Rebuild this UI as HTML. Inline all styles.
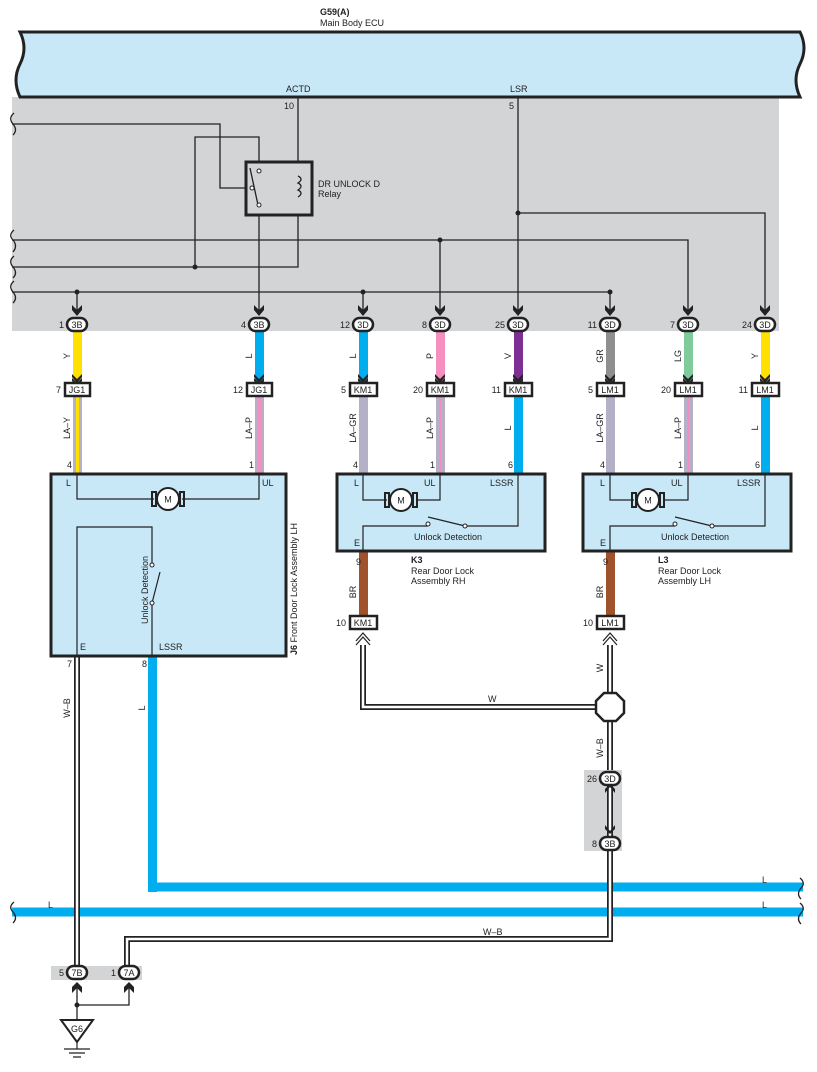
<!DOCTYPE html>
<html><head><meta charset="utf-8"><style>
html,body{margin:0;padding:0;background:#fff}
svg{display:block;font-family:"Liberation Sans",Arial,sans-serif}
text{font-size:9px;fill:#222}
</style></head><body>
<svg width="817" height="1072" viewBox="0 0 817 1072" xmlns="http://www.w3.org/2000/svg">
<rect x="12" y="97" width="767" height="234" fill="#d3d4d6"/>
<path d="M20 32 L800 32 Q808 48 800 64 Q792 80 800 97 L20 97 Q12 80 20 64 Q28 48 20 32 Z" fill="#c8e8f8" stroke="#222" stroke-width="3"/>
<text x="320" y="15" font-weight="bold">G59(A)</text>
<text x="320" y="26">Main Body ECU</text>
<text x="286" y="92">ACTD</text>
<text x="510" y="92">LSR</text>
<text x="284" y="109">10</text>
<text x="509" y="109">5</text>
<g fill="none" stroke="#222" stroke-width="1.3">
<path d="M12 124 H220 V188 H252"/>
<path d="M195 267 V137 H259 V170"/>
<path d="M298 97 V267 H12"/>
<path d="M12 240 H688 V312"/>
<path d="M12 292 H610 V312"/>
<path d="M77 292 V312"/><path d="M363 292 V312"/>
<path d="M440 240 V312"/>
<path d="M518 97 V312"/>
<path d="M518 213 H765 V312"/>
<path d="M259 205 V312"/>
</g>
<g fill="none" stroke="#222" stroke-width="1.3">
<path d="M14 113 Q8 118 13 124 Q18 130 13 135"/>
<path d="M14 230 Q8 235 13 240 Q18 246 13 252"/>
<path d="M14 256 Q8 261 13 267 Q18 273 13 278"/>
<path d="M14 281 Q8 286 13 292 Q18 298 13 303"/>
</g>
<g fill="#222">
<circle cx="195" cy="267" r="2.5"/><circle cx="77" cy="292" r="2.5"/><circle cx="363" cy="292" r="2.5"/>
<circle cx="440" cy="240" r="2.5"/><circle cx="518" cy="213" r="2.5"/><circle cx="610" cy="292" r="2.5"/>
</g>
<rect x="246" y="162" width="66" height="53" fill="#d3d4d6" stroke="#222" stroke-width="3"/>
<line x1="250" y1="168" x2="258" y2="205" stroke="#222" stroke-width="1.3"/>
<g fill="#fff" stroke="#222" stroke-width="1"><circle cx="259" cy="171" r="2"/><circle cx="252" cy="188" r="2"/><circle cx="259" cy="205" r="2"/></g>
<path d="M298 176 Q304 179 298 183 Q304 186 298 190 Q304 193 298 197" fill="none" stroke="#222" stroke-width="1.3"/>
<text x="318" y="187" font-size="9.5">DR UNLOCK D</text>
<text x="318" y="197" font-size="9.5">Relay</text>

<g fill="#222">
<path d="M72 305 l5 5 l5 -5 v5 l-5 6 l-5 -6z"/><path d="M254 305 l5 5 l5 -5 v5 l-5 6 l-5 -6z"/>
<path d="M358 305 l5 5 l5 -5 v5 l-5 6 l-5 -6z"/><path d="M435 305 l5 5 l5 -5 v5 l-5 6 l-5 -6z"/>
<path d="M513 305 l5 5 l5 -5 v5 l-5 6 l-5 -6z"/><path d="M605 305 l5 5 l5 -5 v5 l-5 6 l-5 -6z"/>
<path d="M683 305 l5 5 l5 -5 v5 l-5 6 l-5 -6z"/><path d="M760 305 l5 5 l5 -5 v5 l-5 6 l-5 -6z"/>
</g>
<rect x="73" y="332" width="9" height="52" fill="#ffe000"/>
<rect x="255" y="332" width="9" height="52" fill="#00aeef"/>
<rect x="359" y="332" width="9" height="52" fill="#00aeef"/>
<rect x="436" y="332" width="9" height="52" fill="#f48fc0"/>
<rect x="514" y="332" width="9" height="52" fill="#7d2f94"/>
<rect x="606" y="332" width="9" height="52" fill="#8f8f8f"/>
<rect x="684" y="332" width="9" height="52" fill="#7fcb9c"/>
<rect x="761" y="332" width="9" height="52" fill="#ffe000"/>
<g fill="#222">
<path d="M72 374 l5 5 l5 -5 v3 l-5 6 l-5 -6z M72 378 l5 5 l5 -5 v3 l-5 5 l-5 -5z"/>
<path d="M254 374 l5 5 l5 -5 v3 l-5 6 l-5 -6z M254 378 l5 5 l5 -5 v3 l-5 5 l-5 -5z"/>
<path d="M358 374 l5 5 l5 -5 v3 l-5 6 l-5 -6z M358 378 l5 5 l5 -5 v3 l-5 5 l-5 -5z"/>
<path d="M435 374 l5 5 l5 -5 v3 l-5 6 l-5 -6z M435 378 l5 5 l5 -5 v3 l-5 5 l-5 -5z"/>
<path d="M513 374 l5 5 l5 -5 v3 l-5 6 l-5 -6z M513 378 l5 5 l5 -5 v3 l-5 5 l-5 -5z"/>
<path d="M605 374 l5 5 l5 -5 v3 l-5 6 l-5 -6z M605 378 l5 5 l5 -5 v3 l-5 5 l-5 -5z"/>
<path d="M683 374 l5 5 l5 -5 v3 l-5 6 l-5 -6z M683 378 l5 5 l5 -5 v3 l-5 5 l-5 -5z"/>
<path d="M760 374 l5 5 l5 -5 v3 l-5 6 l-5 -6z M760 378 l5 5 l5 -5 v3 l-5 5 l-5 -5z"/>
</g>
<g fill="#fff" stroke="#222" stroke-width="2.5">
<rect x="67" y="318" width="20" height="13" rx="6.5"/><rect x="249" y="318" width="20" height="13" rx="6.5"/>
<rect x="353" y="318" width="20" height="13" rx="6.5"/><rect x="430" y="318" width="20" height="13" rx="6.5"/>
<rect x="508" y="318" width="20" height="13" rx="6.5"/><rect x="600" y="318" width="20" height="13" rx="6.5"/>
<rect x="678" y="318" width="20" height="13" rx="6.5"/><rect x="755" y="318" width="20" height="13" rx="6.5"/>
</g>
<g font-size="8.5" text-anchor="middle">
<text x="77" y="328">3B</text><text x="259" y="328">3B</text><text x="363" y="328">3D</text><text x="440" y="328">3D</text>
<text x="518" y="328">3D</text><text x="610" y="328">3D</text><text x="688" y="328">3D</text><text x="765" y="328">3D</text>
</g>
<g text-anchor="end">
<text x="64" y="328">1</text><text x="246" y="328">4</text><text x="350" y="328">12</text><text x="427" y="328">8</text>
<text x="505" y="328">25</text><text x="597" y="328">11</text><text x="675" y="328">7</text><text x="752" y="328">24</text>
<text x="61" y="393">7</text><text x="243" y="393">12</text><text x="346" y="393">5</text><text x="423" y="393">20</text>
<text x="501" y="393">11</text><text x="593" y="393">5</text><text x="671" y="393">20</text><text x="748" y="393">11</text>
</g>
<g font-size="9">
<text transform="translate(70,356) rotate(-90)" text-anchor="middle">Y</text>
<text transform="translate(252,356) rotate(-90)" text-anchor="middle">L</text>
<text transform="translate(356,356) rotate(-90)" text-anchor="middle">L</text>
<text transform="translate(433,356) rotate(-90)" text-anchor="middle">P</text>
<text transform="translate(511,356) rotate(-90)" text-anchor="middle">V</text>
<text transform="translate(603,356) rotate(-90)" text-anchor="middle">GR</text>
<text transform="translate(681,356) rotate(-90)" text-anchor="middle">LG</text>
<text transform="translate(758,356) rotate(-90)" text-anchor="middle">Y</text>
<text transform="translate(70,428) rotate(-90)" text-anchor="middle">LA–Y</text>
<text transform="translate(252,428) rotate(-90)" text-anchor="middle">LA–P</text>
<text transform="translate(356,428) rotate(-90)" text-anchor="middle">LA–GR</text>
<text transform="translate(433,428) rotate(-90)" text-anchor="middle">LA–P</text>
<text transform="translate(511,428) rotate(-90)" text-anchor="middle">L</text>
<text transform="translate(603,428) rotate(-90)" text-anchor="middle">LA–GR</text>
<text transform="translate(681,428) rotate(-90)" text-anchor="middle">LA–P</text>
<text transform="translate(758,428) rotate(-90)" text-anchor="middle">L</text>
</g>
<rect x="73" y="396" width="9" height="78" fill="#b4b0c8"/><rect x="76" y="396" width="3" height="78" fill="#ffe000"/>
<rect x="255" y="396" width="9" height="78" fill="#b4b0c8"/><rect x="258" y="396" width="3" height="78" fill="#f48fc0"/>
<rect x="359" y="396" width="9" height="78" fill="#b4b0c8"/>
<rect x="436" y="396" width="9" height="78" fill="#b4b0c8"/><rect x="439" y="396" width="3" height="78" fill="#f48fc0"/>
<rect x="514" y="396" width="9" height="78" fill="#00aeef"/>
<rect x="606" y="396" width="9" height="78" fill="#b4b0c8"/>
<rect x="684" y="396" width="9" height="78" fill="#b4b0c8"/><rect x="687" y="396" width="3" height="78" fill="#f48fc0"/>
<rect x="761" y="396" width="9" height="78" fill="#00aeef"/>
<g fill="#fff" stroke="#222" stroke-width="2.5">
<rect x="65" y="383" width="25" height="13"/><rect x="247" y="383" width="25" height="13"/>
<rect x="350" y="383" width="27" height="13"/><rect x="427" y="383" width="27" height="13"/>
<rect x="505" y="383" width="27" height="13"/><rect x="597" y="383" width="27" height="13"/>
<rect x="675" y="383" width="27" height="13"/><rect x="752" y="383" width="27" height="13"/>
</g>
<g font-size="8.5" text-anchor="middle">
<text x="77" y="393">JG1</text><text x="259" y="393">JG1</text><text x="363" y="393">KM1</text><text x="440" y="393">KM1</text>
<text x="518" y="393">KM1</text><text x="610" y="393">LM1</text><text x="688" y="393">LM1</text><text x="765" y="393">LM1</text>
</g>
<g text-anchor="end">
<text x="72" y="468">4</text><text x="254" y="468">1</text><text x="358" y="468">4</text><text x="435" y="468">1</text><text x="513" y="468">6</text>
<text x="605" y="468">4</text><text x="683" y="468">1</text><text x="760" y="468">6</text>
</g>

<rect x="148" y="656" width="9" height="236" fill="#00aeef"/>
<path d="M152.5 887 H803" stroke="#00aeef" stroke-width="9" fill="none"/>
<path d="M12 912 H803" stroke="#00aeef" stroke-width="9" fill="none"/>
<path d="M14 902 Q8 907 13 912 Q18 918 13 923" fill="none" stroke="#222" stroke-width="1.3"/>
<path d="M800 878 Q806 883 801 888 Q796 894 801 899" fill="none" stroke="#222" stroke-width="1.3"/>
<path d="M800 903 Q806 908 801 913 Q796 919 801 924" fill="none" stroke="#222" stroke-width="1.3"/>
<rect x="359" y="552" width="9" height="64" fill="#a0522d"/>
<rect x="606" y="552" width="9" height="64" fill="#a0522d"/>
<g fill="none" stroke-linejoin="miter">
<path d="M77 656 V965" stroke="#222" stroke-width="6"/><path d="M77 656 V965" stroke="#fff" stroke-width="2.5"/>
<path d="M363 636 V707 H598" stroke="#222" stroke-width="6"/><path d="M363 636 V707 H598" stroke="#fff" stroke-width="2.5"/>
<path d="M610 636 V695" stroke="#222" stroke-width="6"/><path d="M610 636 V695" stroke="#fff" stroke-width="2.5"/>
<path d="M610 720 V771" stroke="#222" stroke-width="6"/><path d="M610 720 V771" stroke="#fff" stroke-width="2.5"/>
<path d="M610 850 V939 H127 V965" stroke="#222" stroke-width="6"/><path d="M610 850 V939 H127 V965" stroke="#fff" stroke-width="2.5"/>
</g>
<polygon points="604,693 616,693 624,701 624,713 616,721 604,721 596,713 596,701" fill="#fff" stroke="#222" stroke-width="2.5"/>
<g fill="#fff" stroke="#222" stroke-width="2.5">
<rect x="350" y="616" width="27" height="13"/><rect x="597" y="616" width="27" height="13"/>
</g>
<g font-size="8.5" text-anchor="middle"><text x="363" y="626">KM1</text><text x="610" y="626">LM1</text></g>
<g text-anchor="end"><text x="346" y="626">10</text><text x="593" y="626">10</text><text x="361" y="565">9</text><text x="608" y="565">9</text>
<text x="72" y="667">7</text><text x="147" y="667">8</text></g>
<g fill="#fff" stroke="#222" stroke-width="1.2">
<path d="M356 641 l7 -8 l7 8 M356 645 l7 -8 l7 8"/>
<path d="M603 641 l7 -8 l7 8 M603 645 l7 -8 l7 8"/>
</g>
<g font-size="9">
<text transform="translate(356,592) rotate(-90)" text-anchor="middle">BR</text>
<text transform="translate(603,592) rotate(-90)" text-anchor="middle">BR</text>
<text transform="translate(603,668) rotate(-90)" text-anchor="middle">W</text>
<text transform="translate(603,748) rotate(-90)" text-anchor="middle">W–B</text>
<text transform="translate(70,708) rotate(-90)" text-anchor="middle">W–B</text>
<text transform="translate(145,708) rotate(-90)" text-anchor="middle">L</text>
</g>
<text x="488" y="702">W</text>
<text x="483" y="935">W–B</text>
<text x="762" y="883">L</text><text x="762" y="908">L</text><text x="48" y="908">L</text>

<rect x="584" y="770" width="38" height="81" fill="#d3d4d6"/>
<path d="M610 776 V845" stroke="#222" stroke-width="6"/>
<path d="M610 776 V845" stroke="#fff" stroke-width="2.5"/>
<g fill="#222"><path d="M605 789 l5 -5 l5 5 v4 l-5 -6 l-5 6z"/><path d="M605 829 l5 5 l5 -5 v-4 l-5 6 l-5 -6z"/></g>
<g fill="#fff" stroke="#222" stroke-width="2.5"><rect x="600" y="772" width="20" height="13" rx="6.5"/><rect x="600" y="837" width="20" height="13" rx="6.5"/></g>
<g font-size="8.5" text-anchor="middle"><text x="610" y="782">3D</text><text x="610" y="847">3B</text></g>
<g text-anchor="end"><text x="597" y="782">26</text><text x="597" y="847">8</text></g>

<rect x="51" y="966" width="91" height="14" fill="#d3d4d6"/>
<g fill="none" stroke="#222" stroke-width="1.3"><path d="M77 985 V1005 H129 V985"/><path d="M77 1005 V1020"/></g>
<circle cx="77" cy="1005" r="2.5" fill="#222"/>
<g fill="#222"><path d="M72 987 l5 -5 l5 5 v6 l-5 -5 l-5 5z"/><path d="M124 987 l5 -5 l5 5 v6 l-5 -5 l-5 5z"/></g>
<g fill="#fff" stroke="#222" stroke-width="2.5"><rect x="67" y="966" width="20" height="13" rx="6.5"/><rect x="119" y="966" width="20" height="13" rx="6.5"/></g>
<g font-size="8.5" text-anchor="middle"><text x="77" y="976">7B</text><text x="129" y="976">7A</text></g>
<g text-anchor="end"><text x="64" y="976">5</text><text x="116" y="976">1</text></g>
<polygon points="61,1020 93,1020 77,1042" fill="#fff" stroke="#222" stroke-width="2"/>
<text x="77" y="1032" text-anchor="middle" font-size="8.5">G6</text>
<g stroke="#222" stroke-width="1.2"><path d="M77 1042 V1049 M64 1049 H90 M69 1053 H85 M73 1057 H81"/></g>

<rect x="51" y="474" width="235" height="182" fill="#c8e8f8" stroke="#222" stroke-width="3"/>
<g fill="none" stroke="#222" stroke-width="1.2">
<path d="M77 474 V499 H154 M182 499 H259 V474"/>
<path d="M77 656 V527 H152 V563 M152 603 V656"/>
<line x1="152" y1="603" x2="160" y2="572"/>
</g>
<g fill="#fff" stroke="#222" stroke-width="1"><circle cx="152" cy="565" r="2"/><circle cx="152" cy="603" r="2"/></g>
<rect x="152" y="492" width="4" height="14" fill="none" stroke="#222" stroke-width="2"/>
<rect x="180" y="492" width="4" height="14" fill="none" stroke="#222" stroke-width="2"/>
<circle cx="168" cy="499" r="11" fill="#fff" stroke="#222" stroke-width="2"/>
<text x="168" y="502.5" text-anchor="middle" font-size="9">M</text>
<text x="66" y="486">L</text><text x="262" y="486">UL</text><text x="80" y="650">E</text><text x="159" y="650">LSSR</text>
<text transform="translate(148,590) rotate(-90)" text-anchor="middle" font-size="9">Unlock Detection</text>
<text transform="translate(297,655) rotate(-90)" font-size="9"><tspan font-weight="bold">J6</tspan> Front Door Lock Assembly LH</text>

<rect x="337" y="474" width="208" height="77" fill="#c8e8f8" stroke="#222" stroke-width="3"/>
<g fill="none" stroke="#222" stroke-width="1.2">
<path d="M363 474 V500 H387 M417 500 H440 V474"/>
<path d="M363 551 V526 H428 M465 526 H518 V474"/>
<line x1="428" y1="517" x2="465" y2="526"/>
</g>
<g fill="#fff" stroke="#222" stroke-width="1"><circle cx="428" cy="524" r="2"/><circle cx="465" cy="526" r="2"/></g>
<rect x="385" y="493" width="4" height="14" fill="none" stroke="#222" stroke-width="2"/>
<rect x="413" y="493" width="4" height="14" fill="none" stroke="#222" stroke-width="2"/>
<circle cx="401" cy="500" r="11" fill="#fff" stroke="#222" stroke-width="2"/>
<text x="401" y="503.5" text-anchor="middle" font-size="9">M</text>
<text x="354" y="486">L</text><text x="424" y="486">UL</text><text x="490" y="486">LSSR</text><text x="354" y="546">E</text>
<text x="414" y="540">Unlock Detection</text>
<text x="411" y="563" font-weight="bold">K3</text><text x="411" y="574">Rear Door Lock</text><text x="411" y="584">Assembly RH</text>

<rect x="583" y="474" width="208" height="77" fill="#c8e8f8" stroke="#222" stroke-width="3"/>
<g fill="none" stroke="#222" stroke-width="1.2">
<path d="M610 474 V500 H634 M664 500 H688 V474"/>
<path d="M610 551 V526 H675 M712 526 H765 V474"/>
<line x1="675" y1="517" x2="712" y2="526"/>
</g>
<g fill="#fff" stroke="#222" stroke-width="1"><circle cx="675" cy="524" r="2"/><circle cx="712" cy="526" r="2"/></g>
<rect x="632" y="493" width="4" height="14" fill="none" stroke="#222" stroke-width="2"/>
<rect x="660" y="493" width="4" height="14" fill="none" stroke="#222" stroke-width="2"/>
<circle cx="648" cy="500" r="11" fill="#fff" stroke="#222" stroke-width="2"/>
<text x="648" y="503.5" text-anchor="middle" font-size="9">M</text>
<text x="600" y="486">L</text><text x="671" y="486">UL</text><text x="737" y="486">LSSR</text><text x="600" y="546">E</text>
<text x="661" y="540">Unlock Detection</text>
<text x="658" y="563" font-weight="bold">L3</text><text x="658" y="574">Rear Door Lock</text><text x="658" y="584">Assembly LH</text>
</svg>
</body></html>
